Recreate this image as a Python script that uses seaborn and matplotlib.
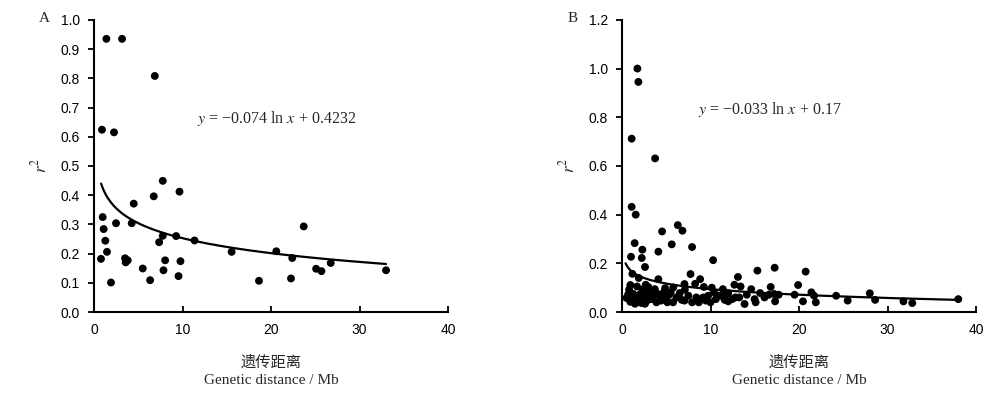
import numpy as np
import pandas as pd
import matplotlib.pyplot as plt
import seaborn as sns

# panel A points (genetic distance Mb, r2)
a_dist = [1.4, 3.17, 6.87, 0.9, 2.26, 7.77, 9.66, 6.75, 4.49, 0.98, 1.09, 2.49, 4.26,
          1.28, 1.47, 0.79, 1.92, 3.51, 3.81, 3.58, 5.51, 6.34, 7.36, 7.77, 8.04, 7.85,
          9.28, 9.77, 9.55, 11.36, 15.55, 18.64, 20.6, 22.4, 22.26, 23.7, 25.1, 25.7,
          26.75, 33.0]
a_r2 = [0.935, 0.935, 0.808, 0.624, 0.615, 0.449, 0.412, 0.396, 0.371, 0.325, 0.284,
        0.304, 0.304, 0.244, 0.206, 0.182, 0.101, 0.184, 0.177, 0.170, 0.149, 0.109,
        0.239, 0.261, 0.177, 0.143, 0.26, 0.174, 0.123, 0.245, 0.206, 0.107, 0.208,
        0.185, 0.115, 0.293, 0.148, 0.140, 0.168, 0.143]

# panel B points
b_dist = [1.74, 1.85, 1.09, 3.74, 1.09, 1.55, 6.3, 6.83, 4.53, 5.62, 7.92, 4.11, 2.3,
          1.43, 1.02, 2.23, 2.6, 10.3, 15.3, 17.25, 20.75, 13.1, 7.74, 8.83, 4.11, 1.17,
          1.89, 19.9, 12.7, 16.8, 14.6, 13.4, 11.4, 10.15, 9.25, 8.26, 7.06, 5.8, 4.87,
          21.4, 24.2, 28.0, 19.5, 21.7, 25.5, 28.6, 31.8, 32.8, 38.0, 20.45, 21.9, 17.2,
          17.3, 16.1, 14.98, 15.1, 13.85, 12.8, 12.45, 11.7, 11.0, 10.0, 9.47, 8.68, 7.92,
          7.06, 6.15, 5.13, 4.42, 3.5, 2.83, 2.2, 1.6, 0.94, 0.5, 0.68, 1.25, 0.94, 1.7,
          2.3, 2.68, 2.98, 3.13, 3.36, 3.89, 4.26, 4.72, 5.32, 6.53, 7.5, 8.4, 9.73, 10.4,
          12.0, 14.1, 15.6, 16.6, 17.7, 1.96, 2.45, 1.32, 1.85, 3.89, 5.77, 0.8, 2.75,
          3.7, 6.75, 9.17, 11.6, 13.25, 5.02, 1.02, 1.47, 2.6, 3.3, 7.1, 5.5, 10.6, 12.0]
b_r2 = [1.0, 0.945, 0.712, 0.631, 0.432, 0.40, 0.357, 0.334, 0.331, 0.278, 0.267, 0.248,
        0.256, 0.283, 0.227, 0.222, 0.185, 0.213, 0.17, 0.182, 0.166, 0.144, 0.156, 0.135,
        0.135, 0.157, 0.14, 0.111, 0.112, 0.103, 0.094, 0.105, 0.094, 0.10, 0.103, 0.116,
        0.115, 0.101, 0.098, 0.081, 0.067, 0.077, 0.071, 0.067, 0.047, 0.05, 0.044, 0.037,
        0.053, 0.044, 0.04, 0.074, 0.044, 0.06, 0.053, 0.04, 0.033, 0.06, 0.053, 0.071,
        0.067, 0.04, 0.047, 0.04, 0.04, 0.047, 0.06, 0.04, 0.047, 0.06, 0.047, 0.037, 0.04,
        0.042, 0.058, 0.071, 0.075, 0.111, 0.105, 0.092, 0.112, 0.103, 0.071, 0.085, 0.078,
        0.067, 0.081, 0.071, 0.078, 0.067, 0.06, 0.067, 0.081, 0.078, 0.071, 0.078, 0.071,
        0.071, 0.071, 0.06, 0.053, 0.053, 0.04, 0.04, 0.092, 0.081, 0.094, 0.05, 0.06, 0.05,
        0.06, 0.06, 0.06, 0.034, 0.034, 0.053, 0.092, 0.081, 0.053, 0.044]

# fitted trend lines y = a ln x + b, as printed on the chart
a_coef, a_icpt, a_range = -0.074, 0.4232, (0.8, 33.0)
b_coef, b_icpt, b_range = -0.033, 0.17, (0.4, 38.0)

sns.set_style("white")
plt.rcParams['font.family'] = ['Liberation Sans', 'DejaVu Sans']
plt.rcParams['mathtext.fontset'] = 'stix'

fig = plt.figure(figsize=(10, 3.97), dpi=100)
axA = fig.add_axes([0.094, 0.214, 0.354, 0.736])
axB = fig.add_axes([0.622, 0.214, 0.354, 0.736])

panels = [
    (axA, a_dist, a_r2, a_coef, a_icpt, a_range, 1.0, np.arange(0, 1.01, 0.1), "A",
     (11.6, 0.664), "$y$ = \u22120.074 ln $x$ + 0.4232"),
    (axB, b_dist, b_r2, b_coef, b_icpt, b_range, 1.2, np.arange(0, 1.21, 0.2), "B",
     (8.6, 0.83), "$y$ = \u22120.033 ln $x$ + 0.17"),
]

for ax, xs, ys, k, c, rng, ymax, yt, tag, eqpos, eq in panels:
    df = pd.DataFrame({"dist": xs, "r2": ys})
    sns.scatterplot(data=df, x="dist", y="r2", ax=ax, color="black", s=32,
                    edgecolor="none", zorder=3)
    gx = np.linspace(rng[0], rng[1], 200)
    fit = pd.DataFrame({"dist": gx, "r2": k * np.log(gx) + c})
    sns.lineplot(data=fit, x="dist", y="r2", ax=ax, color="black", lw=1.6, zorder=2)

    ax.set_xlim(0, 40)
    ax.set_ylim(0, ymax)
    ax.set_xticks([0, 10, 20, 30, 40])
    ax.set_yticks(yt)
    ax.set_yticklabels([f"{v:.1f}" for v in yt])
    for s in ["top", "right"]:
        ax.spines[s].set_visible(False)
    for s in ["left", "bottom"]:
        ax.spines[s].set_linewidth(1.5)
        ax.spines[s].set_color("black")
    ax.tick_params(axis="y", direction="out", length=4, width=1.3, labelsize=10,
                   colors="black", pad=6)
    ax.tick_params(axis="x", direction="in", length=4, width=1.3, labelsize=10,
                   colors="black", pad=8)
    ax.tick_params(axis="x", which="both", bottom=True)
    ax.tick_params(axis="y", which="both", left=True)
    ax.set_xlabel("")
    ax.set_ylabel("$r^2$", fontsize=12, labelpad=8)
    ax.text(eqpos[0], eqpos[1], eq, fontsize=11.5, family="Liberation Serif",
            va="center", ha="left")
    ax.text(-0.155, 1.005, tag, transform=ax.transAxes, fontsize=11,
            family="Liberation Serif", va="center")
    ax.text(0.5, -0.171, "遗传距离", transform=ax.transAxes, ha="center", va="center",
            fontsize=11, family=["Noto Sans CJK SC", "DejaVu Sans"])
    ax.text(0.5, -0.236, "Genetic distance / Mb", transform=ax.transAxes, ha="center",
            va="center", fontsize=11, family="Liberation Serif")

fig.savefig("out.png", dpi=100)
